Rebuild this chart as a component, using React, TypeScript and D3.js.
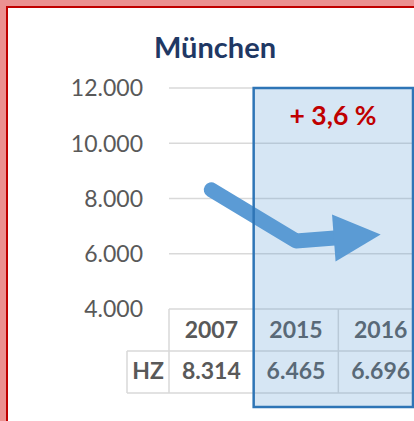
import React, { useEffect } from 'react'
import * as d3 from 'd3'

// data
const years = ['2007', '2015', '2016']
const hzValues = [8314, 6465, 6696]
const hzLabels = ['8.314', '6.465', '6.696']
const yTicks = [4000, 6000, 8000, 10000, 12000]
const tickLabels = ['4.000', '6.000', '8.000', '10.000', '12.000']
const title = 'München'
const changeLabel = '+ 3,6 %'
const rowLabel = 'HZ'

const W = 414, H = 421
const plot = { left: 169, right: 423, top: 88, bottom: 309 }
const rowH = 42
const font = 'Lato, "Open Sans", sans-serif'
const grey = '#595959'
const gridColor = '#D9D9D9'

const App = () => {
    useEffect(() => {
        document.body.style.margin = '0'
    }, [])

    const x = d3.scaleBand().domain(years).range([plot.left, plot.right])
    const y = d3.scaleLinear().domain([4000, 12000]).range([plot.bottom, plot.top])

    const pts: [number, number][] = years.map((d, i) => [x(d)! + x.bandwidth() / 2, y(hzValues[i])])

    // arrow head on last segment
    const p2 = pts[pts.length - 2], p3 = pts[pts.length - 1]
    const len = Math.hypot(p3[0] - p2[0], p3[1] - p2[1])
    const ux = (p3[0] - p2[0]) / len, uy = (p3[1] - p2[1]) / len
    const headL = 47, headW = 23.5
    const base: [number, number] = [p3[0] - ux * headL, p3[1] - uy * headL]
    const overlap: [number, number] = [base[0] + ux * 4, base[1] + uy * 4]
    const linePts = [...pts.slice(0, -1), overlap]
    const line = d3.line()
    const head = [
        [base[0] - uy * headW, base[1] + ux * headW],
        p3,
        [base[0] + uy * headW, base[1] - ux * headW],
    ] as [number, number][]

    const row1 = plot.bottom, row2 = plot.bottom + rowH, row3 = plot.bottom + 2 * rowH
    const hzLeft = 127

    // highlight box around 2015/2016
    const box = { x: x('2015')!, y: plot.top, w: 413 - x('2015')!, h: 407 - plot.top }

    return (
        <svg width={W} height={H} style={{ display: 'block' }}>
            <rect x={0} y={0} width={W} height={H} fill="#EB9191" />
            <rect x={7} y={7} width={W + 10} height={H + 10} fill="#fff" stroke="#C00000" strokeWidth={2} />

            <text x={215} y={58} textAnchor="middle" fontFamily={font} fontWeight="bold" fontSize={29} fill="#1F3864">{title}</text>

            {/* gridlines + y labels */}
            {yTicks.map((t, i) => (
                <g key={t}>
                    {t > 4000 && <line x1={plot.left} x2={W} y1={y(t)} y2={y(t)} stroke={gridColor} strokeWidth={1.5} />}
                    <text x={143} y={y(t)} dy="0.36em" textAnchor="end" fontFamily={font} fontSize={23} fill={grey}>{tickLabels[i]}</text>
                </g>
            ))}

            {/* data table */}
            <g stroke={gridColor} strokeWidth={1.5}>
                <line x1={plot.left} x2={W} y1={row1} y2={row1} />
                <line x1={hzLeft} x2={W} y1={row2} y2={row2} />
                <line x1={hzLeft} x2={W} y1={row3} y2={row3} />
                <line x1={hzLeft} x2={hzLeft} y1={row2} y2={row3} />
                {years.map(d => (
                    <line key={d} x1={x(d)!} x2={x(d)!} y1={row1} y2={row3} />
                ))}
                <line x1={plot.right} x2={plot.right} y1={row1} y2={row3} />
            </g>
            <text x={(hzLeft + plot.left) / 2} y={379} textAnchor="middle" fontFamily={font} fontWeight="bold" fontSize={23} fill={grey}>{rowLabel}</text>
            {years.map((d, i) => (
                <g key={d} fontFamily={font} fontWeight="bold" fontSize={23} fill={grey} textAnchor="middle">
                    <text x={x(d)! + x.bandwidth() / 2} y={338}>{d}</text>
                    <text x={x(d)! + x.bandwidth() / 2} y={379}>{hzLabels[i]}</text>
                </g>
            ))}

            {/* arrow line */}
            <path d={line(linePts)!} fill="none" stroke="#5B9BD5" strokeWidth={15} strokeLinecap="round" strokeLinejoin="round" />
            <path d={line(head)! + 'Z'} fill="#5B9BD5" />

            <rect x={box.x} y={box.y} width={box.w} height={box.h} fill="rgba(91,155,213,0.25)" stroke="#2E75B6" strokeWidth={2.5} />
            <text x={333} y={125} textAnchor="middle" fontFamily={font} fontWeight="bold" fontSize={26.5} fill="#C00000">{changeLabel}</text>
        </svg>
    )
}

export default App
